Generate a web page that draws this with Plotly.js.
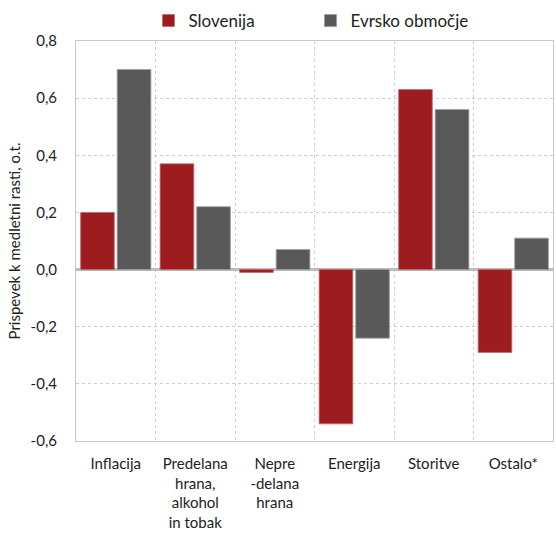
<!DOCTYPE html>
<html>
<head>
<meta charset="utf-8">
<script src="https://cdn.plot.ly/plotly-3.0.1.min.js"></script>
<style>html,body{margin:0;padding:0;background:#fff;}#chart{width:556px;height:535px;}</style>
</head>
<body>
<div id="chart"></div>
<script>
const categories = ["Inflacija", "Predelana<br>hrana,<br>alkohol<br>in tobak", "Nepre<br>-delana<br>hrana", "Energija", "Storitve", "Ostalo*"];
const slovenija = [0.20, 0.37, -0.01, -0.54, 0.63, -0.29];
const evrsko = [0.70, 0.22, 0.07, -0.24, 0.56, 0.11];
const yTickVals = [-0.6, -0.4, -0.2, 0.0, 0.2, 0.4, 0.6, 0.8];
const yTickText = ["-0,6", "-0,4", "-0,2", "0,0", "0,2", "0,4", "0,6", "0,8"];

const font = "Lato, 'Open Sans', sans-serif";
const traces = [
  {type: "bar", name: "Slovenija", x: categories, y: slovenija,
   marker: {color: "#9d1c20", line: {color: "#c06a6d", width: 0.8}}},
  {type: "bar", name: "Evrsko območje", x: categories, y: evrsko,
   marker: {color: "#595959", line: {color: "#9a9a9a", width: 0.8}}}
];
const layout = {
  width: 556, height: 535,
  margin: {l: 76, r: 3, t: 41, b: 94},
  paper_bgcolor: "#fff", plot_bgcolor: "#fff",
  font: {family: font, size: 15, color: "#222"},
  barmode: "group", bargap: 0.08, bargroupgap: 0.08,
  showlegend: true,
  legend: {orientation: "h", x: 0.152, y: 1.005, xanchor: "left", yanchor: "bottom",
           entrywidth: 117, entrywidthmode: "pixels", itemwidth: 30,
           font: {family: font, size: 17, color: "#222"}},
  xaxis: {type: "category", tickson: "boundaries", ticks: "", showgrid: true,
          gridcolor: "#d0d0d0", griddash: "dot", gridwidth: 1,
          showline: true, linecolor: "#c8c8c8", linewidth: 1, mirror: true,
          ticklabelstandoff: 9,
          tickfont: {family: font, size: 15, color: "#222"}, automargin: false},
  yaxis: {range: [-0.6, 0.8], tickvals: yTickVals, ticktext: yTickText,
          showgrid: true, gridcolor: "#cccccc", griddash: "dot", gridwidth: 1,
          zeroline: true, zerolinecolor: "#bdbdbd", zerolinewidth: 2.5,
          showline: true, linecolor: "#c8c8c8", linewidth: 1, mirror: true,
          ticks: "", ticklen: 0, ticklabelstandoff: 15,
          tickfont: {family: font, size: 15, color: "#222"},
          title: {text: "Prispevek k medletni rasti, o.t.", font: {family: font, size: 15, color: "#222"}, standoff: 6},
          automargin: false}
};
Plotly.newPlot("chart", traces, layout, {staticPlot: true, displayModeBar: false});
</script>
</body>
</html>
